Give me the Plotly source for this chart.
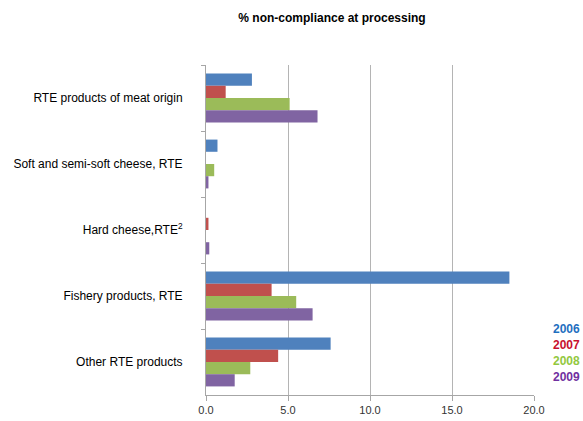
import plotly.graph_objects as go

categories = [
    "RTE products of meat origin",
    "Soft and semi-soft cheese, RTE",
    "Hard cheese,RTE<sup>2</sup>",
    "Fishery products, RTE",
    "Other RTE products",
]
years = ["2006", "2007", "2008", "2009"]
values_2006 = [2.8, 0.7, 0.0, 18.5, 7.6]
values_2007 = [1.2, 0.0, 0.15, 4.0, 4.4]
values_2008 = [5.1, 0.5, 0.0, 5.5, 2.7]
values_2009 = [6.8, 0.15, 0.2, 6.5, 1.75]
x_ticks = [0, 5, 10, 15, 20]

series = [values_2006, values_2007, values_2008, values_2009]
bar_colors = ["#4f81bd", "#c0504d", "#9bbb59", "#8064a2"]
label_colors = ["#1f6fbf", "#c8102e", "#92c83e", "#7030a0"]

fig = go.Figure()
for year, vals, col in zip(years, series, bar_colors):
    fig.add_trace(go.Bar(
        y=categories, x=vals, name=year, orientation="h",
        marker=dict(color=col, line=dict(width=0)),
        showlegend=False,
    ))

# Year key drawn as coloured text
for i, (year, col) in enumerate(zip(years, label_colors)):
    fig.add_annotation(
        text=f"<b>{year}</b>", xref="paper", yref="paper",
        x=1.0 + 48 / 328, y=(66 - i * 16.1) / 330,
        xanchor="right", yanchor="middle", showarrow=False,
        font=dict(family="Liberation Sans, Arial", size=12, color=col),
    )

fig.update_layout(
    width=583, height=421,
    margin=dict(l=206, r=49, t=65, b=26),
    paper_bgcolor="white", plot_bgcolor="white",
    barmode="group", bargap=0.26, bargroupgap=0,
    font=dict(family="Liberation Sans, Arial", size=12, color="#000000"),
    title=dict(
        text="<b>% non-compliance at processing</b>",
        x=332 / 583, xanchor="center", y=1 - 18 / 421, yanchor="middle",
        font=dict(family="Liberation Sans, Arial", size=12, color="#000000"),
    ),
)
fig.update_xaxes(
    range=[0, 20], tickvals=x_ticks, tickformat=".1f",
    showgrid=True, gridcolor="#b4b4b4", gridwidth=1,
    showline=True, linecolor="#a6a6a6", linewidth=1,
    ticks="outside", ticklen=5, tickcolor="#a6a6a6",
    automargin=False,
    tickfont=dict(size=11, color="#333333"),
    zeroline=False, fixedrange=True,
)
fig.update_yaxes(
    autorange="reversed", type="category",
    showline=True, linecolor="#a6a6a6", linewidth=1,
    ticks="outside", ticklen=4, tickcolor="#a6a6a6", tickson="boundaries",
    showgrid=False, ticklabelstandoff=20, automargin=False,
    tickfont=dict(size=12, color="#000000"),
)

fig.write_html("out.html")
